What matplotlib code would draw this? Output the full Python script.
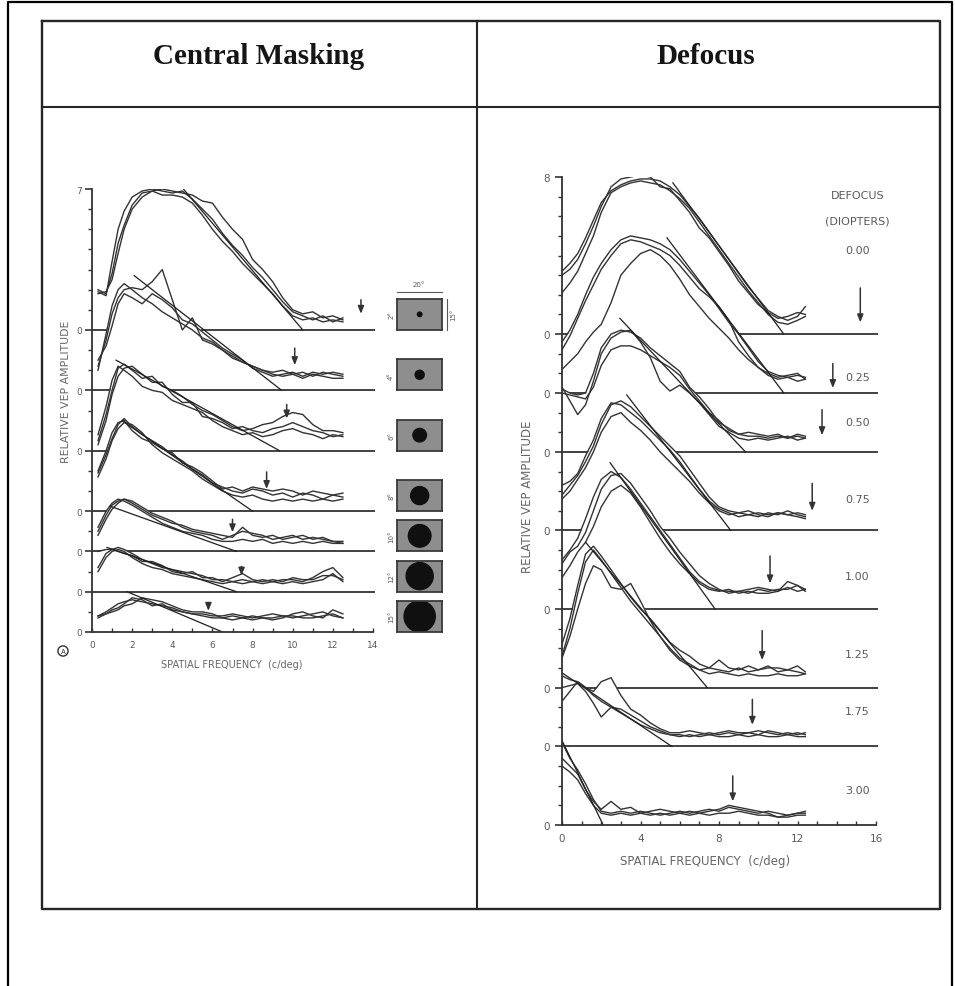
import numpy as np
import matplotlib
matplotlib.use("Agg")
import matplotlib.pyplot as plt
from matplotlib.patches import Circle

W, H = 955, 987
INK = "#333333"
SOFT = "#5a5a5a"

# ---- central masking: VEP amplitude vs spatial frequency, one stacked trace per mask
MASK_DEG = [2, 4, 6, 8, 10, 12, 15]
MASK_OFFSET = [15, 12, 9, 6, 4, 2, 0]
MASK_FREQ = [0.3, 0.7, 1.0, 1.3, 1.6, 2.0, 2.5, 3.0, 3.5, 4.0, 4.5, 5.0, 5.5, 6.0,
             6.5, 7.0, 7.5, 8.0, 8.5, 9.0, 9.5, 10.0, 10.5, 11.0, 11.5, 12.0, 12.5]
MASK_RUNS = [
    [[1.9, 1.7, 3.4, 5.0, 5.9, 6.6, 6.9, 7.0, 6.9, 6.8, 6.9, 6.5, 6.0, 5.5, 4.8, 4.2, 3.7, 3.1, 2.6, 2.0, 1.4, 0.9, 0.7, 0.5, 0.7, 0.4, 0.6],
     [2.0, 1.8, 2.8, 4.3, 5.2, 6.2, 6.8, 6.9, 6.7, 6.7, 6.6, 6.3, 5.7, 5.0, 4.4, 3.9, 3.3, 2.8, 2.3, 1.8, 1.2, 0.7, 0.5, 0.6, 0.4, 0.5, 0.4],
     [1.8, 1.9, 2.5, 3.8, 5.0, 6.0, 6.6, 6.9, 7.0, 6.9, 6.8, 6.7, 6.4, 6.3, 5.6, 5.0, 4.5, 3.5, 3.0, 2.4, 1.6, 1.0, 0.8, 0.9, 0.6, 0.7, 0.5]],
    [[1.2, 2.5, 3.8, 4.6, 5.0, 5.1, 5.0, 5.4, 6.0, 4.5, 3.0, 3.6, 2.5, 2.3, 2.0, 1.7, 1.4, 1.2, 1.0, 0.9, 1.0, 0.8, 0.9, 0.7, 0.9, 0.8, 0.7],
     [1.0, 2.8, 4.2, 5.0, 5.3, 5.0, 4.6, 4.3, 3.9, 3.6, 3.3, 3.0, 2.6, 2.4, 2.0, 1.6, 1.4, 1.2, 1.0, 0.8, 0.7, 0.8, 0.6, 0.8, 0.7, 0.6, 0.6],
     [1.5, 2.2, 3.2, 4.3, 4.8, 4.6, 4.3, 4.8, 4.5, 4.1, 3.5, 3.3, 2.9, 2.5, 2.1, 1.8, 1.5, 1.1, 0.9, 0.7, 0.8, 0.9, 0.7, 0.9, 0.8, 0.9, 0.8]],
    [[0.5, 1.8, 3.0, 4.1, 4.3, 4.0, 3.6, 3.7, 3.2, 3.0, 2.7, 2.3, 2.0, 1.8, 1.5, 1.2, 1.0, 1.1, 1.3, 1.4, 1.7, 1.9, 1.8, 1.3, 1.0, 1.0, 0.9],
     [0.8, 2.2, 3.5, 4.2, 4.0, 3.7, 3.2, 3.0, 2.9, 2.5, 2.3, 2.1, 1.9, 1.5, 1.2, 1.0, 0.8, 0.9, 0.7, 0.8, 1.0, 1.1, 0.9, 0.8, 0.6, 0.8, 0.7],
     [0.3, 1.5, 2.8, 3.7, 4.1, 4.2, 3.8, 3.4, 3.4, 2.8, 2.4, 2.4, 1.7, 1.6, 1.4, 1.1, 1.2, 1.0, 0.9, 1.1, 1.2, 1.4, 1.2, 1.0, 0.9, 0.7, 0.8]],
    [[1.9, 2.8, 3.6, 4.3, 4.6, 4.2, 3.8, 3.5, 3.2, 2.8, 2.5, 2.1, 1.8, 1.4, 1.2, 1.0, 0.9, 1.1, 1.0, 0.8, 0.9, 0.7, 0.9, 0.8, 0.6, 0.8, 0.7],
     [1.7, 2.6, 3.5, 4.1, 4.4, 4.3, 3.9, 3.3, 2.9, 2.6, 2.3, 2.0, 1.6, 1.3, 1.0, 0.8, 0.7, 0.8, 0.6, 0.5, 0.6, 0.5, 0.6, 0.5, 0.6, 0.5, 0.6],
     [2.0, 3.0, 3.9, 4.4, 4.5, 4.0, 3.6, 3.4, 3.1, 2.9, 2.4, 2.2, 1.9, 1.5, 1.1, 1.2, 1.0, 1.2, 1.1, 1.0, 1.1, 1.0, 0.8, 1.0, 0.9, 0.8, 0.9]],
    [[1.0, 1.8, 2.3, 2.5, 2.6, 2.4, 2.1, 1.8, 1.6, 1.4, 1.3, 1.1, 1.0, 0.9, 0.8, 0.7, 1.2, 0.8, 0.7, 0.8, 0.6, 0.7, 0.8, 0.6, 0.7, 0.5, 0.5],
     [1.2, 2.0, 2.4, 2.6, 2.5, 2.3, 2.0, 1.7, 1.4, 1.2, 1.0, 0.9, 0.8, 0.6, 0.5, 0.5, 0.6, 0.5, 0.6, 0.4, 0.5, 0.4, 0.5, 0.4, 0.5, 0.4, 0.4],
     [0.8, 1.6, 2.1, 2.4, 2.6, 2.5, 2.2, 1.9, 1.7, 1.5, 1.2, 1.0, 0.9, 0.8, 0.6, 0.8, 1.0, 0.9, 0.8, 0.6, 0.7, 0.8, 0.6, 0.7, 0.6, 0.5, 0.4]],
    [[1.2, 1.9, 2.1, 2.2, 2.1, 1.9, 1.6, 1.4, 1.2, 1.1, 1.0, 0.9, 0.8, 0.6, 0.6, 0.5, 0.6, 0.5, 0.6, 0.5, 0.6, 0.6, 0.5, 0.7, 1.0, 1.2, 0.7],
     [1.0, 1.7, 2.0, 2.1, 2.0, 1.7, 1.4, 1.2, 1.1, 0.9, 0.8, 0.7, 0.6, 0.5, 0.4, 0.5, 0.4, 0.5, 0.4, 0.5, 0.4, 0.5, 0.4, 0.5, 0.6, 0.9, 0.5],
     [2.0, 2.1, 2.1, 2.0, 1.9, 1.8, 1.5, 1.5, 1.3, 1.0, 0.9, 1.0, 0.7, 0.7, 0.5, 0.7, 0.9, 0.6, 0.5, 0.6, 0.5, 0.7, 0.6, 0.6, 0.8, 0.8, 0.6]],
    [[0.8, 1.0, 1.2, 1.4, 1.5, 1.6, 1.5, 1.4, 1.3, 1.2, 1.0, 0.9, 0.9, 0.8, 0.8, 0.9, 0.8, 0.7, 0.8, 0.9, 0.8, 0.7, 0.8, 0.9, 1.0, 0.8, 0.7],
     [0.8, 0.9, 1.1, 1.2, 1.4, 1.7, 1.6, 1.3, 1.4, 1.1, 1.0, 0.9, 0.8, 0.7, 0.7, 0.8, 0.7, 0.6, 0.7, 0.7, 0.8, 0.8, 0.7, 0.7, 0.8, 0.9, 0.7],
     [0.7, 0.9, 1.0, 1.1, 1.3, 1.4, 1.7, 1.6, 1.5, 1.3, 1.1, 1.0, 1.0, 0.9, 0.7, 0.6, 0.7, 0.8, 0.7, 0.6, 0.7, 0.9, 1.0, 0.8, 0.7, 1.1, 0.9]],
]
# straight-line fit: start point and x-intercept (the acuity estimate)
MASK_FIT_X0 = [4.3, 2.1, 1.2, 1.5, 0.9, 0.75, 1.75]
MASK_FIT_Y0 = [7.3, 5.7, 4.5, 4.5, 2.25, 2.2, 2.0]
MASK_FIT_X1 = [10.5, 9.45, 9.35, 8.0, 7.2, 7.2, 6.5]
MASK_ARROW_X = [13.4, 10.1, 9.7, 8.7, 7.0, 7.45, 5.8]
MASK_ARROW_TOP = [1.5, 2.1, 2.3, 1.95, 1.6, 1.25, 1.4]
MASK_ARROW_TIP = [0.8, 1.25, 1.6, 1.1, 0.95, 0.8, 1.05]

# ---- defocus: same measure, one stacked trace per lens power
DIOPTERS = ["0.00", "0.25", "0.50", "0.75", "1.00", "1.25", "1.75", "3.00"]
DEF_OFFSET = [25, 22, 19, 15, 11, 7, 4, 0]
DEF_FREQ = [0.0, 0.4, 0.8, 1.2, 1.6, 2.0, 2.5, 3.0, 3.5, 4.0, 4.5, 5.0, 5.5, 6.0,
            6.5, 7.0, 7.5, 8.0, 8.5, 9.0, 9.5, 10.0, 10.5, 11.0, 11.5, 12.0, 12.4]
DEF_RUNS = [
    [[3.2, 3.6, 4.1, 4.9, 5.8, 6.7, 7.3, 7.6, 7.8, 7.9, 7.9, 7.8, 7.5, 7.1, 6.5, 5.9, 5.2, 4.5, 3.8, 3.1, 2.4, 1.8, 1.2, 0.9, 0.7, 0.9, 1.4],
     [2.1, 2.6, 3.2, 4.1, 5.0, 6.2, 7.2, 7.5, 7.7, 7.8, 7.7, 7.6, 7.3, 6.9, 6.4, 5.7, 5.0, 4.3, 3.6, 2.9, 2.2, 1.6, 1.0, 0.6, 0.5, 0.7, 0.9],
     [3.0, 3.3, 3.8, 4.6, 5.5, 6.5, 7.5, 7.9, 8.0, 8.1, 8.0, 7.5, 7.4, 6.8, 6.2, 5.4, 4.9, 4.2, 3.5, 2.7, 2.1, 1.5, 1.1, 0.8, 0.9, 1.1, 1.0]],
    [[2.6, 3.2, 4.0, 5.0, 5.9, 6.6, 7.3, 7.8, 8.0, 7.9, 7.8, 7.6, 7.3, 6.8, 6.2, 5.6, 5.0, 4.3, 3.6, 3.0, 2.3, 1.6, 1.1, 0.9, 0.8, 0.9, 0.8],
     [2.2, 2.9, 3.8, 4.7, 5.5, 6.3, 7.0, 7.6, 7.8, 7.7, 7.5, 7.3, 7.0, 6.5, 5.9, 5.3, 4.9, 4.4, 3.7, 2.6, 1.9, 1.3, 1.0, 0.8, 0.9, 1.0, 0.7],
     [1.2, 1.6, 2.0, 2.6, 3.1, 3.5, 4.6, 6.0, 6.6, 7.1, 7.3, 7.0, 6.5, 5.8, 5.0, 4.4, 3.8, 3.3, 2.8, 2.2, 1.7, 1.3, 0.9, 0.7, 0.8, 0.6, 0.7]],
    [[3.2, 3.0, 2.9, 3.0, 4.0, 5.3, 6.0, 6.2, 6.1, 5.8, 5.3, 4.9, 4.5, 4.1, 3.3, 2.8, 2.2, 1.5, 1.2, 0.9, 0.8, 0.8, 0.7, 0.8, 0.7, 0.8, 0.7],
     [3.3, 2.6, 1.9, 2.4, 3.6, 5.0, 5.8, 6.1, 6.2, 5.6, 4.8, 3.6, 3.1, 3.4, 3.0, 2.5, 1.9, 1.3, 1.0, 0.7, 0.6, 0.7, 0.6, 0.7, 0.8, 0.6, 0.7],
     [3.0, 2.9, 2.8, 2.7, 3.3, 4.4, 5.2, 5.4, 5.4, 5.2, 4.9, 4.6, 4.3, 3.9, 3.2, 2.6, 2.0, 1.6, 1.1, 0.9, 1.0, 0.9, 0.8, 0.9, 0.7, 0.9, 0.8]],
    [[1.8, 2.3, 2.8, 3.5, 4.3, 5.4, 6.4, 6.6, 6.3, 5.8, 5.3, 4.8, 4.3, 3.8, 3.1, 2.4, 1.7, 1.2, 1.0, 0.9, 0.8, 0.9, 0.8, 0.9, 0.8, 0.7, 0.6],
     [2.3, 2.5, 2.9, 3.8, 4.6, 5.7, 6.5, 6.4, 6.0, 5.6, 5.1, 4.6, 4.1, 3.5, 2.8, 2.1, 1.5, 1.1, 0.9, 0.7, 0.8, 0.7, 0.9, 0.8, 1.0, 0.8, 0.7],
     [1.6, 2.0, 2.6, 3.2, 4.0, 5.0, 5.8, 6.0, 5.5, 5.1, 4.6, 4.0, 3.5, 3.0, 2.5, 1.9, 1.4, 1.0, 0.8, 0.9, 1.0, 0.8, 0.7, 0.9, 0.8, 0.9, 0.8]],
    [[2.5, 3.0, 3.6, 4.6, 5.7, 6.6, 7.0, 6.7, 6.1, 5.4, 4.7, 4.0, 3.3, 2.6, 1.9, 1.4, 1.1, 0.95, 0.9, 0.9, 1.0, 1.1, 1.0, 0.9, 1.4, 1.2, 0.9],
     [2.3, 2.9, 3.2, 3.9, 5.0, 6.1, 6.8, 6.9, 6.4, 5.7, 5.0, 4.2, 3.6, 2.9, 2.3, 1.7, 1.3, 1.0, 0.8, 0.9, 0.8, 1.0, 0.9, 1.0, 1.0, 1.2, 1.0],
     [1.6, 2.2, 2.9, 3.4, 4.2, 5.2, 6.0, 6.3, 5.9, 5.2, 4.4, 3.6, 2.9, 2.3, 1.8, 1.3, 1.0, 0.9, 1.0, 0.8, 0.9, 0.8, 0.8, 0.9, 1.1, 0.9, 1.0]],
    [[2.2, 3.5, 5.2, 6.8, 7.2, 6.7, 6.0, 5.3, 4.6, 4.0, 3.5, 2.9, 2.3, 1.9, 1.6, 1.2, 1.0, 1.4, 1.0, 0.9, 1.1, 0.9, 1.0, 1.0, 0.9, 1.1, 0.8],
     [1.6, 3.0, 4.8, 6.4, 7.0, 6.5, 5.8, 5.1, 4.4, 3.8, 3.2, 2.6, 2.0, 1.5, 1.2, 0.9, 0.7, 0.8, 0.7, 0.6, 0.7, 0.6, 0.6, 0.7, 0.6, 0.6, 0.7],
     [1.5, 2.6, 4.0, 5.3, 6.2, 6.0, 5.1, 5.0, 5.3, 4.4, 3.4, 2.6, 1.9, 1.4, 1.1, 0.9, 1.0, 0.9, 0.8, 1.0, 0.8, 0.9, 1.1, 0.8, 0.9, 0.8, 0.7]],
    [[3.6, 3.4, 3.3, 3.0, 2.6, 2.3, 2.0, 1.7, 1.4, 1.1, 0.9, 0.7, 0.6, 0.6, 0.5, 0.6, 0.7, 0.6, 0.7, 0.6, 0.7, 0.8, 0.7, 0.6, 0.7, 0.6, 0.7],
     [2.3, 2.8, 3.3, 3.0, 2.8, 3.3, 3.5, 2.6, 1.9, 1.6, 1.2, 0.9, 0.7, 0.7, 0.8, 0.7, 0.6, 0.7, 0.8, 0.7, 0.7, 0.6, 0.8, 0.7, 0.6, 0.7, 0.6],
     [3.0, 3.1, 3.2, 2.8, 2.2, 1.5, 2.0, 1.9, 1.6, 1.3, 1.0, 0.8, 0.6, 0.5, 0.6, 0.5, 0.6, 0.5, 0.5, 0.6, 0.5, 0.6, 0.5, 0.5, 0.6, 0.5, 0.5]],
    [[4.2, 3.4, 2.8, 2.1, 1.3, 0.7, 0.6, 0.7, 0.6, 0.7, 0.6, 0.5, 0.6, 0.7, 0.6, 0.7, 0.8, 0.7, 0.9, 0.8, 0.7, 0.6, 0.7, 0.6, 0.5, 0.6, 0.7],
     [3.4, 3.0, 2.6, 1.8, 1.2, 0.8, 1.2, 0.8, 0.9, 0.6, 0.7, 0.8, 0.7, 0.6, 0.7, 0.6, 0.7, 0.8, 1.0, 0.9, 0.8, 0.7, 0.6, 0.4, 0.4, 0.5, 0.5],
     [3.0, 2.7, 2.3, 1.6, 1.0, 0.6, 0.5, 0.6, 0.5, 0.6, 0.5, 0.6, 0.5, 0.6, 0.5, 0.6, 0.5, 0.6, 0.6, 0.7, 0.6, 0.5, 0.5, 0.4, 0.5, 0.6, 0.6]],
]
DEF_FIT_X0 = [5.65, 5.35, 2.95, 3.3, 2.45, 1.2, 0.0, 0.0]
DEF_FIT_Y0 = [7.7, 7.9, 6.8, 6.9, 7.45, 7.4, 3.75, 4.3]
DEF_FIT_X1 = [11.3, 11.3, 9.35, 8.6, 7.8, 7.4, 5.6, 2.1]
DEF_ARROW_X = [15.2, 13.8, 13.25, 12.75, 10.6, 10.2, 9.7, 8.7]
DEF_ARROW_TOP = [2.35, 1.5, 2.15, 2.4, 2.7, 2.9, 2.4, 2.5]
DEF_ARROW_TIP = [0.6, 0.25, 0.85, 1.0, 1.3, 1.4, 1.1, 1.2]


def px_box(x0, y0, x1, y1):
    return [x0 / W, 1 - y1 / H, (x1 - x0) / W, (y1 - y0) / H]


def draw_stack(ax, freq, offsets, runs, fx0, fy0, fx1, ax_x, ax_top, ax_tip, line_end):
    for i, off in enumerate(offsets):
        r = np.array(runs[i])
        # each trace is opaque: it hides the zero line of the trace above it
        ax.fill_between(freq, off, off + r.max(axis=0), color="white", lw=0, zorder=2 + 2 * i)
        if off > 0:
            ax.plot([0, line_end], [off, off], color=INK, lw=1.3, zorder=2.5 + 2 * i,
                    clip_on=False, solid_capstyle="butt")
        for run in r:
            ax.plot(freq, off + run, color=INK, lw=1.0, zorder=60, solid_joinstyle="round")
        ax.plot([fx0[i], fx1[i]], [off + fy0[i], off], color="#1f1f1f", lw=0.9, zorder=61)
        ax.annotate("", xy=(ax_x[i], off + ax_tip[i]), xytext=(ax_x[i], off + ax_top[i]),
                    arrowprops=dict(arrowstyle="-|>,head_length=0.45,head_width=0.18",
                                    color=INK, lw=1.1, shrinkA=0, shrinkB=0),
                    zorder=62, annotation_clip=False)


def style_axes(ax, xmax, ymax, xmajor, offsets, top_label, fs, ypad):
    ax.set_xlim(0, xmax)
    ax.set_ylim(0, ymax)
    ax.patch.set_alpha(0)
    for s in ("top", "right"):
        ax.spines[s].set_visible(False)
    for s in ("left", "bottom"):
        ax.spines[s].set_color(INK)
        ax.spines[s].set_linewidth(1.3)
        ax.spines[s].set_zorder(70)
    ax.xaxis.set_zorder(70)
    ax.yaxis.set_zorder(70)
    ax.set_xticks(xmajor)
    ax.set_xticks(np.arange(0, xmax + 1), minor=True)
    ax.set_yticks(list(offsets) + [ymax])
    ax.set_yticklabels(["0"] * len(offsets) + [top_label])
    ax.set_yticks(np.arange(0, ymax + 1), minor=True)
    ax.tick_params(axis="x", which="both", direction="in", length=3, width=1,
                   color=INK, labelcolor=SOFT, labelsize=fs, pad=6)
    ax.tick_params(axis="y", which="major", direction="out", length=5, width=1.2,
                   color=INK, labelcolor=SOFT, labelsize=fs, pad=ypad)
    ax.tick_params(axis="y", which="minor", direction="out", length=3, width=1, color=INK)


fig = plt.figure(figsize=(W / 100, H / 100), dpi=100)
frame = fig.add_axes([0, 0, 1, 1])
frame.set_xlim(0, W)
frame.set_ylim(H, 0)
frame.axis("off")

# page border and the two-column table
frame.plot([8, 8, 952, 952], [H, 3, 3, H], color="black", lw=1.6)
frame.plot([42, 940, 940, 42, 42], [22, 22, 910, 910, 22], color="#262626", lw=1.7)
frame.plot([477, 477], [22, 910], color="#262626", lw=1.5)
frame.plot([42, 940], [108, 108], color="#262626", lw=1.5)
frame.text(259, 56, "Central Masking", ha="center", va="center", fontsize=21,
           family="Liberation Serif", weight="bold", color="#151515")
frame.text(706, 56, "Defocus", ha="center", va="center", fontsize=21,
           family="Liberation Serif", weight="bold", color="#151515")

# left panel
ax_l = fig.add_axes(px_box(92, 190, 373, 633))
style_axes(ax_l, 14, 22, [0, 2, 4, 6, 8, 10, 12, 14], MASK_OFFSET, "7", 6.5, 2)
draw_stack(ax_l, MASK_FREQ, MASK_OFFSET, MASK_RUNS, MASK_FIT_X0, MASK_FIT_Y0,
           MASK_FIT_X1, MASK_ARROW_X, MASK_ARROW_TOP, MASK_ARROW_TIP, 14.1)

for deg, off in zip(MASK_DEG, MASK_OFFSET):
    ins = ax_l.inset_axes([15.2, off, 2.25, 1.55], transform=ax_l.transData)
    ins.set_xlim(0, 20)
    ins.set_ylim(0, 15)
    ins.set_facecolor("#8e8e8e")
    ins.set_xticks([])
    ins.set_yticks([])
    for s in ins.spines.values():
        s.set_color("#3a3a3a")
        s.set_linewidth(1.3)
    ins.add_patch(Circle((10, 7.5), deg / 2, color="#101010"))
    ins.set_aspect("equal", adjustable="datalim")
    ax_l.text(14.9, off + 0.78, f"{deg}°", rotation=90, ha="center", va="center",
              fontsize=5, color=SOFT, clip_on=False)

# field-size scale over the first mask
top = MASK_OFFSET[0] + 1.55
ax_l.plot([15.2, 17.45], [top + 0.35, top + 0.35], color=SOFT, lw=0.8, clip_on=False)
ax_l.text(16.3, top + 0.75, "20°", ha="center", va="center", fontsize=5, color=SOFT)
ax_l.plot([17.7, 17.7], [MASK_OFFSET[0], top], color=SOFT, lw=0.8, clip_on=False)
ax_l.text(18.0, MASK_OFFSET[0] + 0.78, "15°", rotation=90, ha="center", va="center",
          fontsize=5, color=SOFT)

frame.text(66, 392, "RELATIVE VEP AMPLITUDE", rotation=90, ha="center", va="center",
           fontsize=7.8, color="#666666")
frame.text(232, 665, "SPATIAL FREQUENCY  (c/deg)", ha="center", va="center",
           fontsize=7, color="#666666")
frame.text(63, 652, "A", ha="center", va="center", fontsize=5, color=INK,
           bbox=dict(boxstyle="circle,pad=0.3", fc="white", ec=INK, lw=1))

# right panel
ax_r = fig.add_axes(px_box(562, 178, 876, 826))
style_axes(ax_r, 16, 33, [0, 4, 8, 12, 16], DEF_OFFSET, "8", 7.5, 4)
draw_stack(ax_r, DEF_FREQ, DEF_OFFSET, DEF_RUNS, DEF_FIT_X0, DEF_FIT_Y0, DEF_FIT_X1,
           DEF_ARROW_X, DEF_ARROW_TOP, DEF_ARROW_TIP, 16.1)

ax_r.text(15.05, 32.1, "DEFOCUS", ha="center", va="center", fontsize=8, color=SOFT)
ax_r.text(15.05, 30.8, "(DIOPTERS)", ha="center", va="center", fontsize=8, color=SOFT)
label_rise = [4.3, 0.8, 1.5, 1.6, 1.7, 1.7, 1.8, 1.8]
for lab, off, rise in zip(DIOPTERS, DEF_OFFSET, label_rise):
    ax_r.text(15.05, off + rise, lab, ha="center", va="center", fontsize=8, color=SOFT,
              zorder=80)

frame.text(527, 497, "RELATIVE VEP AMPLITUDE", rotation=90, ha="center", va="center",
           fontsize=8.5, color="#666666")
frame.text(705, 861, "SPATIAL FREQUENCY  (c/deg)", ha="center", va="center",
           fontsize=8.5, color="#666666")

fig.savefig("out.png", dpi=100)
